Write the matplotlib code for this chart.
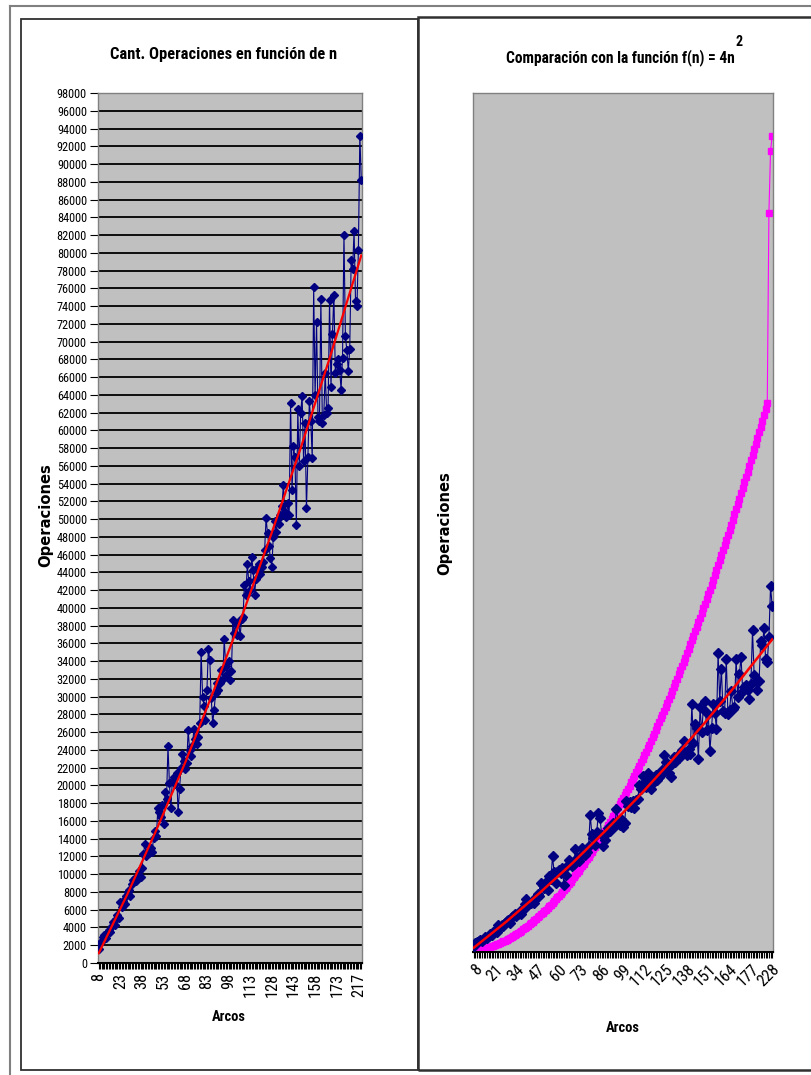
import matplotlib
matplotlib.use("Agg")
import matplotlib.pyplot as plt
from matplotlib import font_manager as fm
from matplotlib.font_manager import FontProperties
from matplotlib.patches import Rectangle
from matplotlib.lines import Line2D


# ===================== Data =====================
# Category axis "Arcos" (consecutive values, then three last cases)
ARCOS = list(range(8, 188)) + [217, 226, 228]

# Measured operations (blue series), one value per category
OPERACIONES = [
    1600, 2200, 2500, 2900, 3100, 2800, 3400, 3700, 3500, 4200,
    4600, 4300, 5000, 5400, 5100, 6900, 6300, 7000, 6600, 7500,
    8000, 8200, 7500, 8900, 9300, 9600, 9200, 9800, 10400, 9700,
    10700, 12300, 13400, 12000, 12600, 12400, 13000, 12500, 14100, 14900,
    14300, 17500, 17000, 16400, 17800, 15700, 19300, 18500, 24400, 20300,
    17500, 20500, 21000, 20200, 21400, 17000, 19600, 22000, 23500, 22800,
    21900, 22500, 26200, 24000, 23300, 24500, 26400, 25200, 24700, 25500,
    27000, 35000, 30000, 29000, 27400, 30700, 35400, 34100, 29800, 27000,
    28500, 30400, 31500, 30800, 31500, 33000, 32000, 36500, 33500, 32500,
    34000, 31900, 32900, 38600, 37200, 38200, 37000, 38500, 36800, 38700,
    39000, 42600, 41500, 44900, 43000, 42000, 45700, 44300, 41500, 43200,
    44500, 45000, 43800, 44600, 45200, 46500, 50100, 48400, 47000, 45600,
    44600, 48000, 49800, 48500, 50000, 49400, 50500, 51500, 53800, 50800,
    50200, 51800, 50500, 63100, 53300, 58200, 57000, 49300, 62400, 56000,
    62000, 63900, 56500, 60800, 51200, 57000, 63300, 61000, 56900, 76200,
    64000, 72200, 61500, 61000, 74800, 60800, 61700, 66500, 62000, 62500,
    74700, 64900, 70800, 75300, 66500, 67500, 68000, 66800, 64600, 68200,
    82000, 70600, 69000, 66700, 69200, 79200, 78200, 82500, 74600, 74000,
    80300, 93200, 88200,
]

# Trend line (red), read at a few category positions
TENDENCIA_IDX = [0, 20, 40, 60, 80, 100, 120, 140, 160, 182]
TENDENCIA = [1100, 7800, 15000, 22600, 30800, 39400, 48500, 58000, 68100, 79700]

# Comparison function f(n) = 4n^2 (magenta series)
CUADRATICA = [
    256, 324, 400, 484, 576, 676, 784, 900, 1024, 1156,
    1296, 1444, 1600, 1764, 1936, 2116, 2304, 2500, 2704, 2916,
    3136, 3364, 3600, 3844, 4096, 4356, 4624, 4900, 5184, 5476,
    5776, 6084, 6400, 6724, 7056, 7396, 7744, 8100, 8464, 8836,
    9216, 9604, 10000, 10404, 10816, 11236, 11664, 12100, 12544, 12996,
    13456, 13924, 14400, 14884, 15376, 15876, 16384, 16900, 17424, 17956,
    18496, 19044, 19600, 20164, 20736, 21316, 21904, 22500, 23104, 23716,
    24336, 24964, 25600, 26244, 26896, 27556, 28224, 28900, 29584, 30276,
    30976, 31684, 32400, 33124, 33856, 34596, 35344, 36100, 36864, 37636,
    38416, 39204, 40000, 40804, 41616, 42436, 43264, 44100, 44944, 45796,
    46656, 47524, 48400, 49284, 50176, 51076, 51984, 52900, 53824, 54756,
    55696, 56644, 57600, 58564, 59536, 60516, 61504, 62500, 63504, 64516,
    65536, 66564, 67600, 68644, 69696, 70756, 71824, 72900, 73984, 75076,
    76176, 77284, 78400, 79524, 80656, 81796, 82944, 84100, 85264, 86436,
    87616, 88804, 90000, 91204, 92416, 93636, 94864, 96100, 97344, 98596,
    99856, 101124, 102400, 103684, 104976, 106276, 107584, 108900, 110224, 111556,
    112896, 114244, 115600, 116964, 118336, 119716, 121104, 122500, 123904, 125316,
    126736, 128164, 129600, 131044, 132496, 133956, 135424, 136900, 138384, 139876,
    188356, 204304, 207936,
]

LEFT_YTICKS = list(range(0, 98001, 2000))
LEFT_LABEL_STEP = 15
RIGHT_LABEL_STEP = 13

# ===================== Style =====================
W, H = 811, 1075
DPI = 100
PLOT_BG = "#C0C0C0"
NAVY = "#000080"
MAGENTA = "#FF00FF"
RED = "#FF0000"

PREFERRED = ["Liberation Sans Narrow", "Roboto Condensed", "Open Sans Condensed",
             "Noto Sans", "Noto Sans Condensed", "Roboto", "Open Sans",
             "DejaVu Sans", "Lato", "Inter"]


def is_bold(f):
    w = f.weight
    if isinstance(w, str):
        return w in ("bold", "heavy", "extra bold", "black", "demibold", "semibold")
    return w >= 600


def find_narrow(bold):
    """Look for an installed narrow/condensed sans face (Arial Narrow look-alike)."""
    best = None
    for f in fm.fontManager.ttflist:
        name = f.name
        stretch = str(f.stretch).lower()
        narrow = ("narrow" in name.lower() or "condensed" in name.lower()
                  or stretch in ("condensed", "semi-condensed", "500", "600"))
        if not narrow or f.style != "normal":
            continue
        if any(k in name for k in ("Mono", "Serif", "CJK", "Display")):
            continue
        if is_bold(f) != bold:
            continue
        rank = PREFERRED.index(name) if name in PREFERRED else len(PREFERRED)
        if stretch == "semi-condensed":
            rank += 0.5
        if best is None or rank < best[0]:
            best = (rank, f.fname)
    if best is not None:
        return FontProperties(fname=best[1])
    return FontProperties(family="Liberation Sans",
                          weight="bold" if bold else "normal")


FONT = find_narrow(False)
FONT_BOLD = find_narrow(True)


def fx(x):
    return x / W


def fy(y):
    return 1 - y / H


def add_axes_px(fig, x0, y0, x1, y1):
    return fig.add_axes([fx(x0), fy(y1), (x1 - x0) / W, (y1 - y0) / H])


def sized(fp, size):
    p = fp.copy()
    p.set_size(size)
    return p


def fit(fig, text, target_px, fp):
    """Font properties scaled so that `text` is about `target_px` wide."""
    r = fig.canvas.get_renderer()
    w, _, _ = r.get_text_width_height_descent(text, sized(fp, 10), ismath=False)
    return sized(fp, 10 * target_px / w)


def style_category_axis(ax, n, step, rotation, fp):
    ax.set_xlim(-0.5, n - 0.5)
    ax.set_xticks(range(n))
    labels = [str(ARCOS[i]) if i % step == 0 else "" for i in range(n)]
    if rotation == 90:
        ax.set_xticklabels(labels, rotation=90, va="top", ha="center",
                           fontproperties=fp)
    else:
        ax.set_xticklabels(labels, rotation=45, ha="right", va="top",
                           rotation_mode="anchor", fontproperties=fp)
    ax.tick_params(axis="x", direction="out", length=4, width=0.8,
                   color="black", pad=3)
    for side in ["top", "right", "left"]:
        ax.spines[side].set_color("#808080")
        ax.spines[side].set_linewidth(1.0)
    ax.spines["bottom"].set_color("black")
    ax.spines["bottom"].set_linewidth(1.5)


def main():
    fig = plt.figure(figsize=(W / DPI, H / DPI), dpi=DPI)
    fig.patch.set_facecolor("white")

    ytick_fp = fit(fig, "98000", 30, FONT)
    xtick_fp = fit(fig, "217", 24, FONT)
    title1_fp = fit(fig, "Cant. Operaciones en función de n", 226, FONT_BOLD)
    title2_fp = fit(fig, "Comparación con la función f(n) = 4n", 230, FONT_BOLD)
    arcos_fp = fit(fig, "Arcos", 34, FONT_BOLD)
    oper_fp = fit(fig, "Operaciones", 104,
                  FontProperties(family="DejaVu Sans", weight="bold"))

    # Outer spreadsheet frame and the two chart boxes
    fig.add_artist(Line2D([fx(10), fx(811)], [fy(6), fy(6)],
                          transform=fig.transFigure, color="#808080", lw=1.5))
    fig.add_artist(Line2D([fx(10), fx(10)], [fy(6), fy(1075)],
                          transform=fig.transFigure, color="#808080", lw=1.5))
    fig.add_artist(Rectangle((fx(21), fy(1070)), (418 - 21) / W, (1070 - 19) / H,
                             transform=fig.transFigure, fill=False,
                             ec="#303030", lw=1.3))
    fig.add_artist(Rectangle((fx(418), fy(1070)), (815 - 418) / W, (1070 - 17) / H,
                             transform=fig.transFigure, fill=False,
                             ec="#303030", lw=1.8))

    n = len(ARCOS)
    idx = list(range(n))

    # ---------- Left chart ----------
    ax1 = add_axes_px(fig, 98, 93, 362, 963)
    ax1.set_facecolor(PLOT_BG)
    ax1.set_ylim(0, 98000)
    ax1.set_yticks(LEFT_YTICKS)
    ax1.set_yticklabels([str(v) for v in LEFT_YTICKS], fontproperties=ytick_fp)
    ax1.tick_params(axis="y", direction="out", length=6, width=0.8, pad=2)
    for v in LEFT_YTICKS[1:]:
        ax1.axhline(v, color="black", lw=1.3, zorder=1)
    ax1.plot(idx, OPERACIONES, color=NAVY, lw=0.8, marker="D", ms=4.4,
             mfc=NAVY, mec=NAVY, zorder=3)
    ax1.plot(TENDENCIA_IDX, TENDENCIA, color=RED, lw=1.6, zorder=4)
    style_category_axis(ax1, n, LEFT_LABEL_STEP, 90, xtick_fp)

    fig.text(fx(224), fy(55), "Cant. Operaciones en función de n",
             ha="center", va="center", fontproperties=title1_fp)
    fig.text(fx(229), fy(1017), "Arcos", ha="center", va="center",
             fontproperties=arcos_fp)
    fig.text(fx(46), fy(515), "Operaciones", ha="center", va="center",
             rotation=90, fontproperties=oper_fp)

    # ---------- Right chart ----------
    ax2 = add_axes_px(fig, 473, 93, 773, 952)
    ax2.set_facecolor(PLOT_BG)
    ax2.set_ylim(0, 219000)
    ax2.set_yticks([])
    ax2.plot(idx, CUADRATICA, color=MAGENTA, lw=0.8, marker="s", ms=5.0,
             mfc=MAGENTA, mec=MAGENTA, zorder=2)
    ax2.plot(idx, OPERACIONES, color=NAVY, lw=0.8, marker="D", ms=5.4,
             mfc=NAVY, mec=NAVY, zorder=3)
    ax2.plot(TENDENCIA_IDX, TENDENCIA, color=RED, lw=1.8, zorder=4)
    style_category_axis(ax2, n, RIGHT_LABEL_STEP, 45, xtick_fp)

    fig.text(fx(735), fy(58), "Comparación con la función f(n) = 4n",
             ha="right", va="center", fontproperties=title2_fp)
    fig.text(fx(736), fy(42), "2", ha="left", va="center",
             fontproperties=sized(title2_fp, title2_fp.get_size() * 0.9))
    fig.text(fx(623), fy(1028), "Arcos", ha="center", va="center",
             fontproperties=arcos_fp)
    fig.text(fx(445), fy(523), "Operaciones", ha="center", va="center",
             rotation=90, fontproperties=oper_fp)

    fig.savefig("out.png", dpi=DPI)
    plt.close(fig)


if __name__ == "__main__":
    main()
